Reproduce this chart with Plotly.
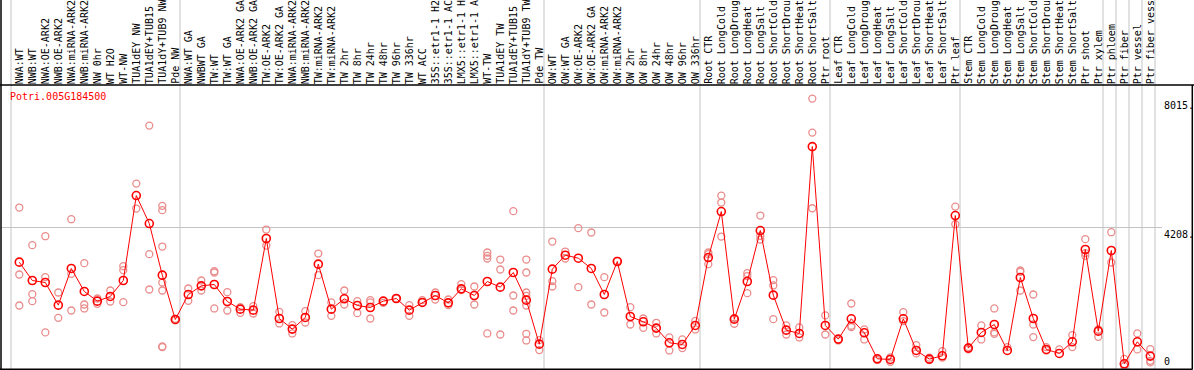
import plotly.graph_objects as go

# ---------------- data ----------------
gene = "Potri.005G184500"

group_sizes = [13, 28, 12, 10, 10, 11, 1, 1, 1, 1]

labels = [
    "NWA:WT", "NWB:WT", "NWA:OE-ARK2", "NWB:OE-ARK2", "NWA:miRNA-ARK2", "NWB:miRNA-ARK2",
    "NW 0hr", "WT H2O", "WT-NW", "TUA1dEY NW", "TUA1dEY+TUB15 NW", "TUA1dY+TUB9 NW", "Pde NW",
    "NWA:WT GA", "NWBWT GA", "TW:WT", "TW:WT GA", "NWA:OE-ARK2 GA", "NWB:OE-ARK2 GA",
    "TW:OE-ARK2", "TW:OE-ARK2 GA", "NWA:miRNA-ARK2", "NWB:miRNA-ARK2", "TW:miRNA-ARK2",
    "TW:miRNA-ARK2", "TW 2hr", "TW 8hr", "TW 24hr", "TW 48hr", "TW 96hr", "TW 336hr", "WT ACC",
    "35S::etr1-1 H2O", "35S::etr1-1 ACC", "LMX5::etr1-1 H2O", "LMX5::etr1-1 ACC", "WT-TW",
    "TUA1dEY TW", "TUA1dEY+TUB15 TW", "TUA1dY+TUB9 TW", "Pde TW",
    "OW:WT", "OW:WT GA", "OW:OE-ARK2", "OW:OE-ARK2 GA", "OW:miRNA-ARK2", "OW:miRNA-ARK2",
    "OW 2hr", "OW 8hr", "OW 24hr", "OW 48hr", "OW 96hr", "OW 336hr",
    "Root CTR", "Root LongCold", "Root LongDrought", "Root LongHeat", "Root LongSalt",
    "Root ShortCold", "Root ShortDrought", "Root ShortHeat", "Root ShortSalt", "Ptr root",
    "Leaf CTR", "Leaf LongCold", "Leaf LongDrought", "Leaf LongHeat", "Leaf LongSalt",
    "Leaf ShortCold", "Leaf ShortDrought", "Leaf ShortHeat", "Leaf ShortSalt", "Ptr leaf",
    "Stem CTR", "Stem LongCold", "Stem LongDrought", "Stem LongHeat", "Stem LongSalt",
    "Stem ShortCold", "Stem ShortDrought", "Stem ShortHeat", "Stem ShortSalt", "Ptr shoot",
    "Ptr xylem",
    "Ptr phloem", "Ptr fiber", "Ptr vessel", "Ptr fiber vessel",
]

means = [
    3184, 2643, 2584, 1915, 2998, 2319, 2033, 2171, 2643, 5151, 4325, 2801, 1492,
    2229, 2485, 2525, 2023, 1797, 1768, 3883, 1521, 1207, 1551, 3125, 1797, 2102, 1905,
    1846, 2033, 2111, 1768, 1994, 2200, 1983, 2397, 2200, 2613, 2447, 2879, 2063, 764,
    2978, 3390, 3302, 2998, 2229, 3204, 1580, 1423, 1237, 804, 754, 1315,
    3321, 4679, 1502, 2613, 4118, 2210, 1177, 1079, 6597, 1315,
    912, 1512, 1098, 331, 312, 1512, 577, 322, 419, 4561,
    646, 1109, 1344, 577, 2731, 1521, 607, 489, 833, 3558, 1147,
    3529, 183, 833, 410,
]

replicates = [
    [4797, 2820, 1905], [3686, 2240, 2033], [3951, 2741, 1109], [2289, 1541],
    [4453, 2839, 1757], [3155, 1934, 1817], [2111, 1954], [2348, 2023],
    [3066, 2948, 2003], [5505, 4768], [7217, 3420, 2377],
    [4847, 4719, 3646, 2584, 2348, 695, 676], [1470, 1510],
    [2407, 2043], [2643, 2348], [2918, 2879, 1817], [2299, 1757], [1856, 1689],
    [1886, 1669], [4148, 3675], [1718, 1374], [1325, 1079], [1738, 1403],
    [3439, 2801], [1994, 1600], [2348, 1934], [2033, 1679], [2063, 1994, 1521],
    [1983], [2111], [1915, 1600], [2063, 1994], [2289, 2082], [2082, 1915],
    [2535, 2357], [2466, 1934], [3469, 3371, 3292, 1079], [3262, 2967, 1049],
    [4690, 2200, 1757], [3262, 2879, 2289, 2191, 1905, 1069, 872], [882, 587],
    [3793, 2624, 2466], [3498, 3292], [4188, 2447], [4060, 1934], [2741, 1698],
    [3220], [1856, 1344], [1521, 1246], [1394, 1079], [961, 577], [902, 646],
    [1452, 1197],
    [3469, 3420, 3125], [5151, 4945, 3941], [1531, 1365], [2859, 2771, 2269],
    [4561, 3962, 3853], [2653, 2496, 1502], [1315, 1049], [1256, 961],
    [8015, 7011, 4777], [1611, 1049],
    [872], [1964, 1306, 1266], [1197, 902], [327, 290], [370, 240], [1708, 1443],
    [735, 489], [365, 290], [558, 365], [4826, 4305],
    [676, 607], [1315, 902], [1817, 1109, 1069], [676], [2938, 2899, 2348],
    [2229, 1344, 971], [676, 577], [607], [1030, 676], [3863, 3450, 3371],
    [1197, 981],
    [4069, 3175], [330, 115], [1080, 608], [617, 271, 224],
]

y_top_label = 8015

# ---------------- geometry ----------------
W, H = 1194, 370
COL_W = 13          # pixel width of a column
X0 = 11             # pixel of first column boundary
PT_OFF = 8.3 / COL_W
HEADER = 85         # pixel row of header bottom line
MAX_CHARS = 14      # header cell shows this many characters
MONO = "DejaVu Sans Mono"

def xpx(p):
    return (p - X0) / COL_W

def ypaper(p):
    return (H - p) / H

ymax = y_top_label * 1.05
ymid = ymax / 2

xs_mean = [i + PT_OFF for i in range(len(means))]
rep_x = [i + PT_OFF for i, r in enumerate(replicates) for _ in r]
rep_y = [v for r in replicates for v in r]

fig = go.Figure()
fig.add_trace(go.Scatter(
    x=rep_x, y=rep_y, mode="markers",
    marker=dict(symbol="circle-open", size=7, color="rgb(234,140,140)",
                line=dict(width=1.3, color="rgb(234,140,140)")),
    hoverinfo="skip", cliponaxis=False,
))
fig.add_trace(go.Scatter(
    x=xs_mean, y=means, mode="lines+markers",
    line=dict(color="#ff0000", width=1),
    marker=dict(symbol="circle-open", size=8, color="#ff0000",
                line=dict(width=1.6, color="#ff0000")),
    cliponaxis=False,
))

shapes = []
bounds = [0]
for g in group_sizes:
    bounds.append(bounds[-1] + g)
for b in bounds:
    shapes.append(dict(type="line", xref="x", yref="paper", x0=b, x1=b, y0=0, y1=1,
                       line=dict(color="#c4c4c4", width=1), layer="below"))
shapes.append(dict(type="line", xref="paper", yref="y", x0=1 / W, x1=1162 / W,
                   y0=ymid, y1=ymid, line=dict(color="#c4c4c4", width=1), layer="below"))
blk = dict(color="black", width=1.5)
shapes += [
    dict(type="line", xref="paper", yref="paper", x0=1 / W, x1=1 / W, y0=0, y1=1, line=blk),
    dict(type="line", xref="paper", yref="paper", x0=0, x1=1,
         y0=ypaper(HEADER), y1=ypaper(HEADER), line=blk),
    dict(type="line", xref="paper", yref="paper", x0=0, x1=1192.5 / W,
         y0=ypaper(369.3), y1=ypaper(369.3), line=blk),
    dict(type="line", xref="paper", yref="paper", x0=1192.3 / W, x1=1192.3 / W,
         y0=ypaper(369.5), y1=ypaper(HEADER), line=blk),
]

annotations = []
for i, lab in enumerate(labels):
    annotations.append(dict(
        text=lab[:MAX_CHARS], x=i + PT_OFF, xref="x", y=ypaper(85), yref="paper",
        textangle=-90, xanchor="center", yanchor="bottom", showarrow=False,
        font=dict(family=MONO, size=10, color="black"), borderpad=0,
    ))
annotations.append(dict(
    text=gene, x=8 / W, xref="paper", y=ypaper(89), yref="paper",
    xanchor="left", yanchor="top", showarrow=False,
    font=dict(family=MONO, size=10, color="#ff0000"),
))
for val, txt, shift, anc in [(y_top_label, "8015.", 1, "top"),
                             (ymid, "4208.", 1, "top"),
                             (0, "0", 1, "bottom")]:
    annotations.append(dict(
        text=txt, x=1162 / W, xref="paper", y=val, yref="y", yshift=shift,
        xanchor="left", yanchor=anc, showarrow=False,
        font=dict(family=MONO, size=10, color="black"),
    ))

fig.update_layout(
    width=W, height=H, margin=dict(l=0, r=0, t=0, b=0),
    paper_bgcolor="white", plot_bgcolor="white", showlegend=False,
    xaxis=dict(range=[xpx(0), xpx(W)], domain=[0, 1], visible=False, fixedrange=True),
    yaxis=dict(range=[0, ymax], domain=[0, ypaper(HEADER)], visible=False, fixedrange=True),
    shapes=shapes, annotations=annotations,
)

fig.write_html(
    "out.html",
    config={"displayModeBar": False},
    post_script="document.body.style.margin='0';document.body.style.overflow='hidden';",
)
